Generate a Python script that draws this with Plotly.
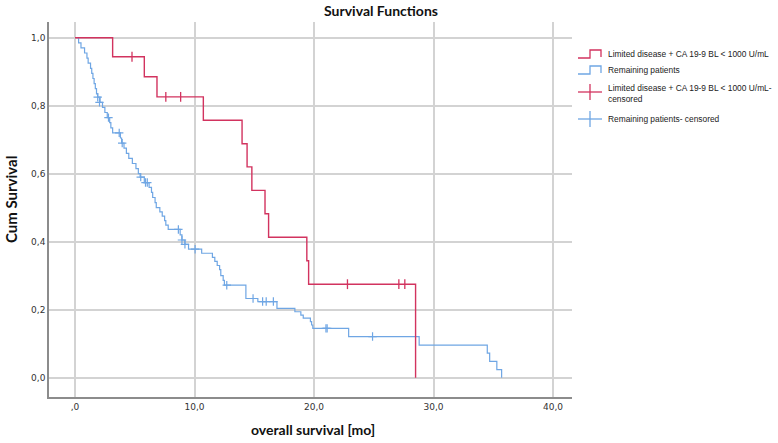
import plotly.graph_objects as go

# ---------------- data ----------------
red_t = [0, 3.15, 5.8, 6.86, 10.74, 13.98, 14.4, 14.8, 15.9, 16.2, 19.4, 19.55, 28.5]
red_s = [1.0, 0.944, 0.885, 0.826, 0.757, 0.688, 0.620, 0.551, 0.482, 0.413, 0.344, 0.275, 0.0]
red_cens_t = [4.77, 7.6, 8.84, 22.8, 27.1, 27.6]
red_cens_s = [0.944, 0.826, 0.826, 0.275, 0.275, 0.275]

blue_t = [0, 0.3, 0.5, 0.8, 1.0, 1.1, 1.3, 1.4, 1.5, 1.6, 1.7, 1.8, 1.9,
          2.1, 2.3, 2.5, 2.7, 2.9, 3.0, 3.15, 3.8, 3.9, 4.1, 4.3, 4.5, 4.8,
          5.1, 5.3, 5.45, 5.8, 6.2, 6.4, 6.5, 6.7, 6.8, 7.1, 7.3, 7.5, 7.6,
          7.8, 8.8, 8.95, 9.2, 9.5, 10.6, 11.5, 11.7, 11.9, 12.1, 12.2, 12.4,
          12.5, 14.3, 15.3, 16.9, 18.4, 18.9, 19.1, 19.7, 19.8, 19.9, 22.9,
          28.8, 34.5, 34.7, 35.3, 35.7]
blue_s = [1.0, 0.985, 0.97, 0.955, 0.94, 0.925, 0.91, 0.895, 0.88, 0.865, 0.85, 0.835, 0.825,
          0.81, 0.795, 0.78, 0.765, 0.75, 0.735, 0.72, 0.705, 0.69, 0.675, 0.66, 0.645, 0.63,
          0.615, 0.60, 0.59, 0.574, 0.56, 0.545, 0.53, 0.515, 0.50, 0.488, 0.475, 0.462, 0.449,
          0.436, 0.42, 0.405, 0.392, 0.378, 0.366, 0.354, 0.342, 0.33, 0.318, 0.30, 0.286,
          0.272, 0.233, 0.224, 0.204, 0.194, 0.184, 0.175, 0.165, 0.155, 0.145, 0.121,
          0.096, 0.072, 0.048, 0.024, 0.0]
blue_cens_t = [1.9, 2.05, 2.8, 3.7, 3.95, 5.5, 5.9, 6.05, 8.65, 8.95, 9.2, 10.05,
               12.7, 14.9, 15.7, 16.0, 16.6, 21.0, 21.1, 24.9]
blue_cens_s = [0.825, 0.81, 0.765, 0.72, 0.69, 0.59, 0.574, 0.574, 0.436, 0.405, 0.392, 0.378,
               0.272, 0.233, 0.224, 0.224, 0.224, 0.145, 0.145, 0.121]

x_tickvals = [0, 10, 20, 30, 40]
x_ticktext = [",0", "10,0", "20,0", "30,0", "40,0"]
y_tickvals = [0, 0.2, 0.4, 0.6, 0.8, 1.0]
y_ticktext = ["0,0", "0,2", "0,4", "0,6", "0,8", "1,0"]

legend_labels = ["Limited disease + CA 19-9 BL < 1000 U/mL",
                 "Remaining patients",
                 "Limited disease + CA 19-9 BL < 1000 U/mL-<br>censored",
                 "Remaining patients- censored"]

RED = "#d2335f"
BLUE = "#6fa6e4"

# ---------------- figure ----------------
W, H = 778, 443
L, R, T, B = 49, 206, 22, 46
pw, ph = W - L - R, H - T - B


def px(x):
    return (x - L) / pw


def py(y):
    return (H - B - y) / ph


fig = go.Figure()
fig.add_trace(go.Scatter(x=blue_t, y=blue_s, mode="lines", line=dict(color=BLUE, width=1.2, shape="hv"),
                         showlegend=False, hoverinfo="skip"))
fig.add_trace(go.Scatter(x=red_t, y=red_s, mode="lines", line=dict(color=RED, width=1.4, shape="hv"),
                         showlegend=False, hoverinfo="skip"))
fig.add_trace(go.Scatter(x=blue_cens_t, y=blue_cens_s, mode="markers",
                         marker=dict(symbol="cross-thin", size=6, line=dict(color=BLUE, width=1.2)),
                         showlegend=False, hoverinfo="skip"))
fig.add_trace(go.Scatter(x=red_cens_t, y=red_cens_s, mode="markers",
                         marker=dict(symbol="line-ns", size=7, line=dict(color=RED, width=1.3)),
                         showlegend=False, hoverinfo="skip"))

# manual legend (SPSS style)
shapes = []
annotations = []
text_x = px(606)
# step icons
for yy, col in [(54, RED), (70, BLUE)]:
    path = "M {} {} L {} {} L {} {} L {} {} L {} {}".format(
        px(578), py(yy + 4), px(590), py(yy + 4), px(590), py(yy - 4),
        px(601), py(yy - 4), px(601), py(yy + 3))
    shapes.append(dict(type="path", xref="paper", yref="paper", path=path,
                       line=dict(color=col, width=1.3)))
# cross icons
for yy, col in [(92, RED), (119, BLUE)]:
    shapes.append(dict(type="line", xref="paper", yref="paper", x0=px(578), x1=px(602),
                       y0=py(yy), y1=py(yy), line=dict(color=col, width=1.3)))
    shapes.append(dict(type="line", xref="paper", yref="paper", x0=px(590), x1=px(590),
                       y0=py(yy - 8), y1=py(yy + 8), line=dict(color=col, width=1.3)))

for lab, yy in zip(legend_labels, [54, 70, 94, 119]):
    annotations.append(dict(text=lab, xref="paper", yref="paper", x=text_x, y=py(yy),
                            xanchor="left", yanchor="middle", align="left", showarrow=False,
                            font=dict(family="Liberation Sans", size=8.4, color="#222")))

# axis titles as annotations (pixel placed)
annotations.append(dict(text="<b>overall survival [mo]</b>", xref="paper", yref="paper",
                        x=px(313), y=py(429), xanchor="center", yanchor="middle", showarrow=False,
                        font=dict(family="Lato", size=14, color="#111")))
annotations.append(dict(text="<b>Cum Survival</b>", xref="paper", yref="paper", textangle=-90,
                        x=px(11), y=py(199), xanchor="center", yanchor="middle", showarrow=False,
                        font=dict(family="Lato", size=15, color="#111")))

fig.update_layout(
    width=W, height=H,
    margin=dict(l=L, r=R, t=T, b=B, autoexpand=False),
    paper_bgcolor="white", plot_bgcolor="white",
    title=dict(text="<b>Survival Functions</b>", x=381 / W, xanchor="center", xref="container",
               y=1 - 11 / H, yanchor="middle", yref="container",
               font=dict(family="Lato", size=14, color="#111")),
    shapes=shapes, annotations=annotations,
    xaxis=dict(range=[(L - 75) / 11.95, (W - R - 75) / 11.95], tickvals=x_tickvals, ticktext=x_ticktext,
               showgrid=True, gridcolor="#d3d3d3", gridwidth=1.5, zeroline=False, automargin=False,
               showline=True, linecolor="#8c8c8c", linewidth=1.5, ticks="", ticklen=0,
               tickfont=dict(family="DejaVu Sans", size=9, color="#333")),
    yaxis=dict(range=[(377.7 - 397) / 340, (377.7 - 22) / 340], tickvals=y_tickvals, ticktext=y_ticktext,
               showgrid=True, gridcolor="#d3d3d3", gridwidth=1.5, zeroline=False, automargin=False,
               showline=True, linecolor="#8c8c8c", linewidth=1.5, ticks="", ticklen=0,
               tickfont=dict(family="DejaVu Sans", size=9, color="#333")),
)

fig.write_html("out.html", config={"displayModeBar": False},
               post_script="document.body.style.margin='0';document.body.style.padding='0';")
